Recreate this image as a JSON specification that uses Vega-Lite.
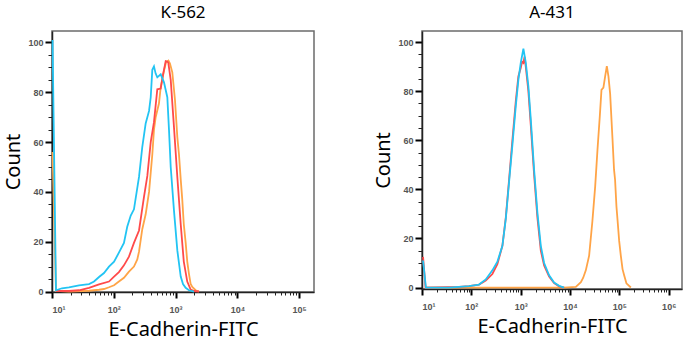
{
  "$schema": "https://vega.github.io/schema/vega-lite/v6.json",
  "background": "white",
  "padding": {"left": 3, "top": 3, "right": 5, "bottom": 2},
  "config": {
    "font": "Noto Sans",
    "view": {"stroke": "#6b6b6b", "strokeWidth": 1.5},
    "axis": {"labelFont": "Liberation Sans", "labelFontSize": 9, "labelFontWeight": "bold", "labelColor": "#555555", "domainColor": "#222222", "domainWidth": 1.5, "titleFont": "Noto Sans", "titleFontSize": 20, "titleFontWeight": "normal", "titleColor": "#000000", "grid": false},
    "title": {"font": "Noto Sans", "fontSize": 17, "fontWeight": "normal", "color": "#000000", "offset": 9},
    "concat": {"spacing": 58}
  },
  "datasets": {
    "k562": [
      {"sample": "E-Cadherin", "intensity": 10.2, "count": 56},
      {"sample": "E-Cadherin", "intensity": 11.6, "count": 0.2},
      {"sample": "E-Cadherin", "intensity": 18.8, "count": 0},
      {"sample": "E-Cadherin", "intensity": 39.7, "count": 0.3},
      {"sample": "E-Cadherin", "intensity": 57.7, "count": 0.7},
      {"sample": "E-Cadherin", "intensity": 69.4, "count": 1},
      {"sample": "E-Cadherin", "intensity": 83.6, "count": 1.7},
      {"sample": "E-Cadherin", "intensity": 101, "count": 2.5},
      {"sample": "E-Cadherin", "intensity": 121, "count": 4},
      {"sample": "E-Cadherin", "intensity": 146, "count": 5.5},
      {"sample": "E-Cadherin", "intensity": 176, "count": 8},
      {"sample": "E-Cadherin", "intensity": 212, "count": 10},
      {"sample": "E-Cadherin", "intensity": 240, "count": 12.9},
      {"sample": "E-Cadherin", "intensity": 256, "count": 16},
      {"sample": "E-Cadherin", "intensity": 289, "count": 25},
      {"sample": "E-Cadherin", "intensity": 328, "count": 31},
      {"sample": "E-Cadherin", "intensity": 372, "count": 40},
      {"sample": "E-Cadherin", "intensity": 420, "count": 55},
      {"sample": "E-Cadherin", "intensity": 447, "count": 65},
      {"sample": "E-Cadherin", "intensity": 476, "count": 70},
      {"sample": "E-Cadherin", "intensity": 538, "count": 75.5},
      {"sample": "E-Cadherin", "intensity": 574, "count": 82},
      {"sample": "E-Cadherin", "intensity": 649, "count": 88.6},
      {"sample": "E-Cadherin", "intensity": 700, "count": 92},
      {"sample": "E-Cadherin", "intensity": 767, "count": 92.7},
      {"sample": "E-Cadherin", "intensity": 811, "count": 91.5},
      {"sample": "E-Cadherin", "intensity": 885, "count": 88},
      {"sample": "E-Cadherin", "intensity": 977, "count": 77},
      {"sample": "E-Cadherin", "intensity": 1067, "count": 62},
      {"sample": "E-Cadherin", "intensity": 1135, "count": 55},
      {"sample": "E-Cadherin", "intensity": 1211, "count": 45},
      {"sample": "E-Cadherin", "intensity": 1282, "count": 37},
      {"sample": "E-Cadherin", "intensity": 1358, "count": 27},
      {"sample": "E-Cadherin", "intensity": 1456, "count": 19.6},
      {"sample": "E-Cadherin", "intensity": 1545, "count": 12},
      {"sample": "E-Cadherin", "intensity": 1648, "count": 7},
      {"sample": "E-Cadherin", "intensity": 1754, "count": 3},
      {"sample": "E-Cadherin", "intensity": 1862, "count": 1.8},
      {"sample": "E-Cadherin", "intensity": 2113, "count": 0.5},
      {"sample": "E-Cadherin", "intensity": 2393, "count": 0},
      {"sample": "Isotype control", "intensity": 11.6, "count": 0.2},
      {"sample": "Isotype control", "intensity": 18.8, "count": 0.2},
      {"sample": "Isotype control", "intensity": 27.4, "count": 0.5},
      {"sample": "Isotype control", "intensity": 39.7, "count": 1.5},
      {"sample": "Isotype control", "intensity": 57.7, "count": 2.9},
      {"sample": "Isotype control", "intensity": 83.6, "count": 4},
      {"sample": "Isotype control", "intensity": 101, "count": 6},
      {"sample": "Isotype control", "intensity": 121, "count": 7.8},
      {"sample": "Isotype control", "intensity": 146, "count": 10.5},
      {"sample": "Isotype control", "intensity": 176, "count": 14},
      {"sample": "Isotype control", "intensity": 212, "count": 19.5},
      {"sample": "Isotype control", "intensity": 256, "count": 24.5},
      {"sample": "Isotype control", "intensity": 308, "count": 38},
      {"sample": "Isotype control", "intensity": 349, "count": 46.4},
      {"sample": "Isotype control", "intensity": 396, "count": 60},
      {"sample": "Isotype control", "intensity": 447, "count": 68},
      {"sample": "Isotype control", "intensity": 506, "count": 81.2},
      {"sample": "Isotype control", "intensity": 574, "count": 81.5},
      {"sample": "Isotype control", "intensity": 625, "count": 87},
      {"sample": "Isotype control", "intensity": 692, "count": 92.5},
      {"sample": "Isotype control", "intensity": 735, "count": 92.3},
      {"sample": "Isotype control", "intensity": 762, "count": 91.9},
      {"sample": "Isotype control", "intensity": 834, "count": 85},
      {"sample": "Isotype control", "intensity": 942, "count": 66},
      {"sample": "Isotype control", "intensity": 1067, "count": 46},
      {"sample": "Isotype control", "intensity": 1211, "count": 27},
      {"sample": "Isotype control", "intensity": 1358, "count": 12},
      {"sample": "Isotype control", "intensity": 1545, "count": 4},
      {"sample": "Isotype control", "intensity": 1754, "count": 0.8},
      {"sample": "Isotype control", "intensity": 1986, "count": 0.2},
      {"sample": "Isotype control", "intensity": 2393, "count": 0},
      {"sample": "Unstained", "intensity": 10.2, "count": 101},
      {"sample": "Unstained", "intensity": 11.6, "count": 0.5},
      {"sample": "Unstained", "intensity": 14.5, "count": 1.3},
      {"sample": "Unstained", "intensity": 18.8, "count": 1.7},
      {"sample": "Unstained", "intensity": 27.4, "count": 2.5},
      {"sample": "Unstained", "intensity": 39.7, "count": 3.0},
      {"sample": "Unstained", "intensity": 47.9, "count": 4.0},
      {"sample": "Unstained", "intensity": 57.7, "count": 5.8},
      {"sample": "Unstained", "intensity": 69.4, "count": 7.4},
      {"sample": "Unstained", "intensity": 83.6, "count": 10},
      {"sample": "Unstained", "intensity": 101, "count": 12},
      {"sample": "Unstained", "intensity": 121, "count": 15.6},
      {"sample": "Unstained", "intensity": 146, "count": 19.5},
      {"sample": "Unstained", "intensity": 165, "count": 26},
      {"sample": "Unstained", "intensity": 188, "count": 30.5},
      {"sample": "Unstained", "intensity": 212, "count": 33},
      {"sample": "Unstained", "intensity": 256, "count": 46},
      {"sample": "Unstained", "intensity": 289, "count": 58},
      {"sample": "Unstained", "intensity": 328, "count": 67.5},
      {"sample": "Unstained", "intensity": 372, "count": 72.5},
      {"sample": "Unstained", "intensity": 396, "count": 78},
      {"sample": "Unstained", "intensity": 420, "count": 89},
      {"sample": "Unstained", "intensity": 447, "count": 90.4},
      {"sample": "Unstained", "intensity": 476, "count": 87.5},
      {"sample": "Unstained", "intensity": 506, "count": 86},
      {"sample": "Unstained", "intensity": 574, "count": 87.2},
      {"sample": "Unstained", "intensity": 649, "count": 84},
      {"sample": "Unstained", "intensity": 735, "count": 78},
      {"sample": "Unstained", "intensity": 782, "count": 65},
      {"sample": "Unstained", "intensity": 834, "count": 50},
      {"sample": "Unstained", "intensity": 942, "count": 32.5},
      {"sample": "Unstained", "intensity": 1067, "count": 16.5},
      {"sample": "Unstained", "intensity": 1211, "count": 6},
      {"sample": "Unstained", "intensity": 1318, "count": 3},
      {"sample": "Unstained", "intensity": 1456, "count": 1.5},
      {"sample": "Unstained", "intensity": 1648, "count": 0.5},
      {"sample": "Unstained", "intensity": 1986, "count": 0}
    ],
    "a431": [
      {"sample": "E-Cadherin", "intensity": 11.5, "count": 0},
      {"sample": "E-Cadherin", "intensity": 7586, "count": 0},
      {"sample": "E-Cadherin", "intensity": 13100, "count": 0.3},
      {"sample": "E-Cadherin", "intensity": 16600, "count": 2.2},
      {"sample": "E-Cadherin", "intensity": 18500, "count": 4},
      {"sample": "E-Cadherin", "intensity": 20900, "count": 7},
      {"sample": "E-Cadherin", "intensity": 24400, "count": 13},
      {"sample": "E-Cadherin", "intensity": 28400, "count": 27},
      {"sample": "E-Cadherin", "intensity": 32300, "count": 41},
      {"sample": "E-Cadherin", "intensity": 36000, "count": 56},
      {"sample": "E-Cadherin", "intensity": 40200, "count": 70},
      {"sample": "E-Cadherin", "intensity": 43400, "count": 80.5},
      {"sample": "E-Cadherin", "intensity": 47500, "count": 81.4},
      {"sample": "E-Cadherin", "intensity": 51500, "count": 86},
      {"sample": "E-Cadherin", "intensity": 55700, "count": 90.2},
      {"sample": "E-Cadherin", "intensity": 60100, "count": 86},
      {"sample": "E-Cadherin", "intensity": 65000, "count": 79},
      {"sample": "E-Cadherin", "intensity": 72400, "count": 61},
      {"sample": "E-Cadherin", "intensity": 78000, "count": 48},
      {"sample": "E-Cadherin", "intensity": 81800, "count": 44},
      {"sample": "E-Cadherin", "intensity": 87300, "count": 33},
      {"sample": "E-Cadherin", "intensity": 91400, "count": 28},
      {"sample": "E-Cadherin", "intensity": 99100, "count": 19},
      {"sample": "E-Cadherin", "intensity": 107000, "count": 13},
      {"sample": "E-Cadherin", "intensity": 116000, "count": 7.5},
      {"sample": "E-Cadherin", "intensity": 125000, "count": 5},
      {"sample": "E-Cadherin", "intensity": 139000, "count": 1.7},
      {"sample": "E-Cadherin", "intensity": 171000, "count": 0},
      {"sample": "Isotype control", "intensity": 10.5, "count": 12.5},
      {"sample": "Isotype control", "intensity": 11.8, "count": 0},
      {"sample": "Isotype control", "intensity": 56.4, "count": 0.3},
      {"sample": "Isotype control", "intensity": 89.4, "count": 0.6},
      {"sample": "Isotype control", "intensity": 143, "count": 1.2},
      {"sample": "Isotype control", "intensity": 196, "count": 2.8},
      {"sample": "Isotype control", "intensity": 267, "count": 5.5},
      {"sample": "Isotype control", "intensity": 337, "count": 9.5},
      {"sample": "Isotype control", "intensity": 426, "count": 17},
      {"sample": "Isotype control", "intensity": 499, "count": 28.5},
      {"sample": "Isotype control", "intensity": 582, "count": 44},
      {"sample": "Isotype control", "intensity": 679, "count": 60},
      {"sample": "Isotype control", "intensity": 796, "count": 76},
      {"sample": "Isotype control", "intensity": 897, "count": 86},
      {"sample": "Isotype control", "intensity": 1005, "count": 89.5},
      {"sample": "Isotype control", "intensity": 1069, "count": 92},
      {"sample": "Isotype control", "intensity": 1135, "count": 91.5},
      {"sample": "Isotype control", "intensity": 1199, "count": 94},
      {"sample": "Isotype control", "intensity": 1268, "count": 90},
      {"sample": "Isotype control", "intensity": 1432, "count": 80},
      {"sample": "Isotype control", "intensity": 1603, "count": 66},
      {"sample": "Isotype control", "intensity": 1871, "count": 46},
      {"sample": "Isotype control", "intensity": 2183, "count": 28.5},
      {"sample": "Isotype control", "intensity": 2559, "count": 15},
      {"sample": "Isotype control", "intensity": 2985, "count": 9},
      {"sample": "Isotype control", "intensity": 3767, "count": 4.5},
      {"sample": "Isotype control", "intensity": 4753, "count": 1.8},
      {"sample": "Isotype control", "intensity": 6012, "count": 0.5},
      {"sample": "Isotype control", "intensity": 7586, "count": 0},
      {"sample": "Unstained", "intensity": 10.5, "count": 11},
      {"sample": "Unstained", "intensity": 12, "count": 0},
      {"sample": "Unstained", "intensity": 35.3, "count": 0},
      {"sample": "Unstained", "intensity": 56.4, "count": 0.3},
      {"sample": "Unstained", "intensity": 89.4, "count": 0.6},
      {"sample": "Unstained", "intensity": 143, "count": 1.2},
      {"sample": "Unstained", "intensity": 196, "count": 3.3},
      {"sample": "Unstained", "intensity": 267, "count": 7},
      {"sample": "Unstained", "intensity": 337, "count": 10.5},
      {"sample": "Unstained", "intensity": 426, "count": 17},
      {"sample": "Unstained", "intensity": 499, "count": 28},
      {"sample": "Unstained", "intensity": 582, "count": 43},
      {"sample": "Unstained", "intensity": 679, "count": 58},
      {"sample": "Unstained", "intensity": 796, "count": 74},
      {"sample": "Unstained", "intensity": 897, "count": 84.5},
      {"sample": "Unstained", "intensity": 1005, "count": 91.6},
      {"sample": "Unstained", "intensity": 1135, "count": 97.3},
      {"sample": "Unstained", "intensity": 1268, "count": 91.6},
      {"sample": "Unstained", "intensity": 1432, "count": 82},
      {"sample": "Unstained", "intensity": 1603, "count": 68.5},
      {"sample": "Unstained", "intensity": 1871, "count": 48},
      {"sample": "Unstained", "intensity": 2183, "count": 30.5},
      {"sample": "Unstained", "intensity": 2559, "count": 17},
      {"sample": "Unstained", "intensity": 2985, "count": 10},
      {"sample": "Unstained", "intensity": 3767, "count": 5},
      {"sample": "Unstained", "intensity": 4753, "count": 2},
      {"sample": "Unstained", "intensity": 6012, "count": 0.7},
      {"sample": "Unstained", "intensity": 7586, "count": 0}
    ]
  },
  "hconcat": [
    {
      "title": "K-562",
      "width": 262,
      "height": 261,
      "data": {"name": "k562"},
      "encoding": {
        "x": {"field": "intensity", "type": "quantitative",
          "scale": {"type": "log", "domain": [10, 173780], "nice": false},
          "axis": {
            "title": "E-Cadherin-FITC", "titlePadding": 5,
            "values": [10,20,30,40,50,60,70,80,90,100,200,300,400,500,600,700,800,900,1000,2000,3000,4000,5000,6000,7000,8000,9000,10000,20000,30000,40000,50000,60000,70000,80000,90000,100000],
            "labelExpr": "abs(log(datum.value)/LN10 - round(log(datum.value)/LN10)) < 0.001 ? '10' + ['⁰','¹','²','³','⁴','⁵','⁶'][round(log(datum.value)/LN10)] : ''",
            "labelOverlap": false, "labelFlush": 1, "labelPadding": 7,
            "tickSize": {"condition": {"test": "abs(log(datum.value)/LN10 - round(log(datum.value)/LN10)) < 0.001", "value": 6}, "value": 3},
            "tickWidth": {"condition": {"test": "abs(log(datum.value)/LN10 - round(log(datum.value)/LN10)) < 0.001", "value": 2}, "value": 1},
            "tickColor": {"condition": {"test": "abs(log(datum.value)/LN10 - round(log(datum.value)/LN10)) < 0.001", "value": "#000000"}, "value": "#222222"}
          }},
        "y": {"field": "count", "type": "quantitative",
          "scale": {"domain": [-0.2, 104.6], "nice": false, "zero": false},
          "axis": {
            "title": "Count", "titlePadding": 4,
            "values": [0,5,10,15,20,25,30,35,40,45,50,55,60,65,70,75,80,85,90,95,100],
            "labelExpr": "datum.value % 20 === 0 ? datum.label : ''",
            "labelOverlap": false, "labelPadding": 2,
            "tickSize": {"condition": {"test": "datum.value % 20 === 0", "value": 7}, "value": 4},
            "tickWidth": {"condition": {"test": "datum.value % 20 === 0", "value": 2}, "value": 1},
            "tickColor": {"condition": {"test": "datum.value % 20 === 0", "value": "#000000"}, "value": "#222222"}
          }},
        "color": {"field": "sample", "type": "nominal",
          "scale": {"domain": ["E-Cadherin", "Isotype control", "Unstained"], "range": ["#ffa447", "#ff4a4a", "#22c4f3"]},
          "legend": null}
      },
      "layer": [
        {"transform": [{"filter": "datum.sample === 'E-Cadherin'"}], "mark": {"type": "line", "strokeWidth": 1.8}},
        {"transform": [{"filter": "datum.sample === 'Isotype control'"}], "mark": {"type": "line", "strokeWidth": 1.8}},
        {"transform": [{"filter": "datum.sample === 'Unstained'"}], "mark": {"type": "line", "strokeWidth": 1.8}}
      ]
    },
    {
      "title": "A-431",
      "width": 260,
      "height": 258,
      "data": {"name": "a431"},
      "encoding": {
        "x": {"field": "intensity", "type": "quantitative",
          "scale": {"type": "log", "domain": [10, 1860000], "nice": false},
          "axis": {
            "title": "E-Cadherin-FITC", "titlePadding": 5,
            "values": [10,20,30,40,50,60,70,80,90,100,200,300,400,500,600,700,800,900,1000,2000,3000,4000,5000,6000,7000,8000,9000,10000,20000,30000,40000,50000,60000,70000,80000,90000,100000,200000,300000,400000,500000,600000,700000,800000,900000,1000000],
            "labelExpr": "abs(log(datum.value)/LN10 - round(log(datum.value)/LN10)) < 0.001 ? '10' + ['⁰','¹','²','³','⁴','⁵','⁶'][round(log(datum.value)/LN10)] : ''",
            "labelOverlap": false, "labelFlush": 1, "labelPadding": 7,
            "tickSize": {"condition": {"test": "abs(log(datum.value)/LN10 - round(log(datum.value)/LN10)) < 0.001", "value": 6}, "value": 3},
            "tickWidth": {"condition": {"test": "abs(log(datum.value)/LN10 - round(log(datum.value)/LN10)) < 0.001", "value": 2}, "value": 1},
            "tickColor": {"condition": {"test": "abs(log(datum.value)/LN10 - round(log(datum.value)/LN10)) < 0.001", "value": "#000000"}, "value": "#222222"}
          }},
        "y": {"field": "count", "type": "quantitative",
          "scale": {"domain": [-0.6, 104.5], "nice": false, "zero": false},
          "axis": {
            "title": "Count", "titlePadding": 4,
            "values": [0,5,10,15,20,25,30,35,40,45,50,55,60,65,70,75,80,85,90,95,100],
            "labelExpr": "datum.value % 20 === 0 ? datum.label : ''",
            "labelOverlap": false, "labelPadding": 2,
            "tickSize": {"condition": {"test": "datum.value % 20 === 0", "value": 7}, "value": 4},
            "tickWidth": {"condition": {"test": "datum.value % 20 === 0", "value": 2}, "value": 1},
            "tickColor": {"condition": {"test": "datum.value % 20 === 0", "value": "#000000"}, "value": "#222222"}
          }},
        "color": {"field": "sample", "type": "nominal",
          "scale": {"domain": ["E-Cadherin", "Isotype control", "Unstained"], "range": ["#ffa447", "#ff4a4a", "#22c4f3"]},
          "legend": null}
      },
      "layer": [
        {"transform": [{"filter": "datum.sample === 'E-Cadherin'"}], "mark": {"type": "line", "strokeWidth": 1.8}},
        {"transform": [{"filter": "datum.sample === 'Isotype control'"}], "mark": {"type": "line", "strokeWidth": 1.8}},
        {"transform": [{"filter": "datum.sample === 'Unstained'"}], "mark": {"type": "line", "strokeWidth": 1.8}}
      ]
    }
  ]
}
